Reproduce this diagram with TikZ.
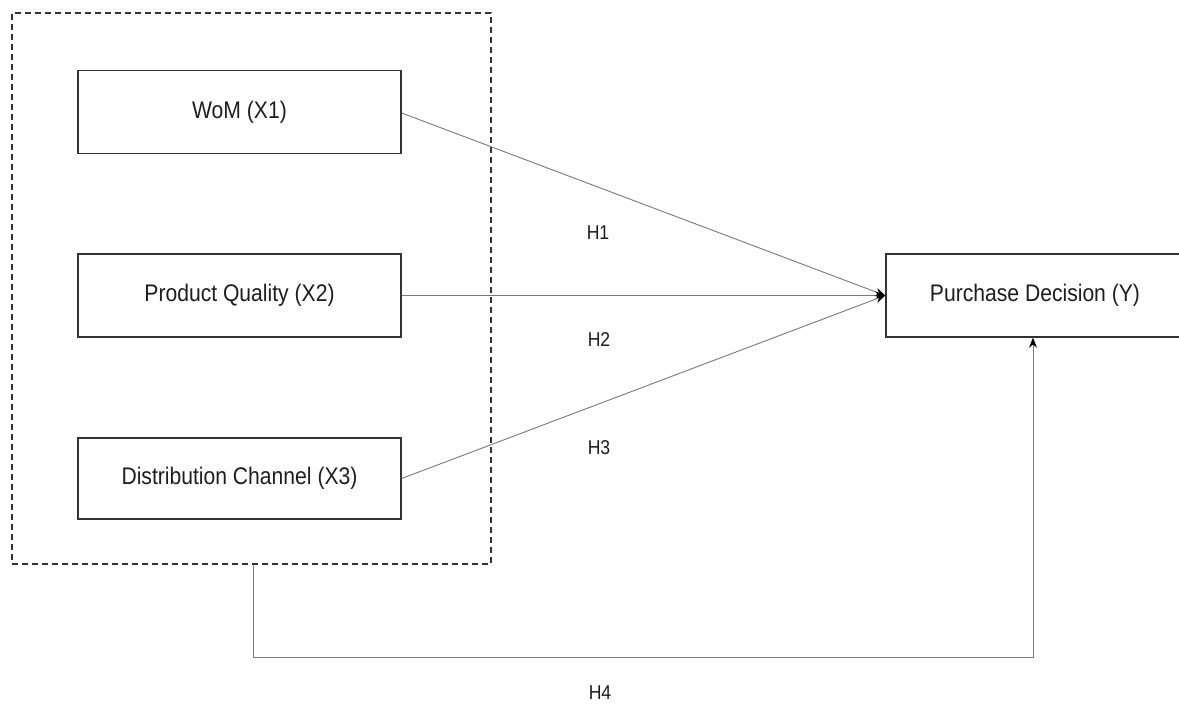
\documentclass[tikz,border=0pt]{standalone}
\usepackage{fontspec}
\setmainfont[FakeStretch=0.88]{Liberation Sans}
\usetikzlibrary{arrows.meta}
\definecolor{boxline}{HTML}{333333}
\definecolor{conn}{HTML}{7A7A7A}
\definecolor{txt}{HTML}{1E1E1E}
\begin{document}
\begin{tikzpicture}[x=1pt,y=-1pt,
  varbox/.style={draw=boxline,line width=1.4pt,rectangle,inner sep=0pt,
    text=txt,font=\fontsize{24}{28}\selectfont},
  groupbox/.style={draw=boxline,line width=1.4pt,dash pattern=on 6pt off 4pt,
    rectangle,inner sep=0pt},
  conline/.style={draw=conn,line width=0.9pt,-{Stealth[length=10pt,width=8pt,color=black]}},
  hyp/.style={text=txt,font=\fontsize{20}{24}\selectfont,inner sep=0pt}
]
\useasboundingbox (0,0) rectangle (1179,704);
\fill[white] (0,0) rectangle (1179,704);

\node[groupbox,minimum width=479pt,minimum height=551pt] (grp) at (251.5,288.5) {};

\node[varbox,minimum width=323pt,minimum height=83pt] (x1) at (239.5,112) {WoM (X1)};
\node[varbox,minimum width=323pt,minimum height=83pt] (x2) at (239.5,295.5) {Product Quality (X2)};
\node[varbox,minimum width=323pt,minimum height=81pt] (x3) at (239.5,478.5) {Distribution Channel (X3)};
\node[varbox,minimum width=298pt,minimum height=83pt] (y) at (1035,295.5) {Purchase Decision (Y)};

\draw[conline] (x1.east) ++(0,1) -- (y.west);
\draw[conline] (x2.east) -- (y.west);
\draw[conline] (x3.east) -- (y.west);
\coordinate (h4a) at (253,657);
\coordinate (h4b) at (1033,657);
\draw[conline] (grp.south -| h4a) -- (h4a) -- (h4b) -- (h4b |- y.south);

\node[hyp] (h1) at (598,233) {H1};
\node[hyp] (h2) at (599,340) {H2};
\node[hyp] (h3) at (599,448) {H3};
\node[hyp] (h4) at (600,693) {H4};
\end{tikzpicture}
\end{document}
